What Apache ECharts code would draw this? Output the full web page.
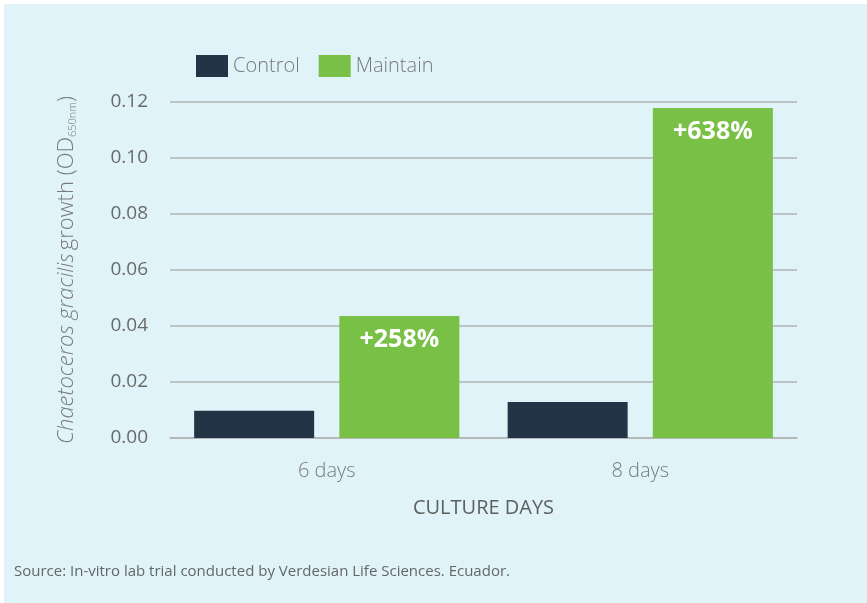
<!DOCTYPE html>
<html>
<head>
<meta charset="utf-8">
<script src="https://cdn.jsdelivr.net/npm/echarts@6/dist/echarts.min.js"></script>
<style>
html,body{margin:0;padding:0;background:#ffffff;}
#chart{width:867px;height:603px;}
</style>
</head>
<body>
<div id="chart"></div>
<script>
var categories = ['6 days', '8 days'];
var controlValues = [0.0097, 0.0129];
var maintainValues = [0.0436, 0.1179];
var maintainLabels = ['+258%', '+638%'];
var yTicks = { min: 0, max: 0.12, interval: 0.02 };

var chart = echarts.init(document.getElementById('chart'));
var font = '"Open Sans", Lato, sans-serif';
chart.setOption({
  backgroundColor: '#dff3f9',
  textStyle: { fontFamily: font },
  graphic: [
    { type: 'rect', left: 0, top: 0, shape: { width: 4, height: 603 }, style: { fill: '#ffffff' }, silent: true },
    { type: 'rect', left: 0, top: 0, shape: { width: 867, height: 4 }, style: { fill: '#ffffff' }, silent: true },
    { type: 'text', left: 14, top: 564, style: { text: 'Source: In-vitro lab trial conducted by Verdesian Life Sciences. Ecuador.', fill: '#666666', font: '15px ' + font } }
  ],
  legend: {
    left: 196, top: 55, padding: 0,
    itemWidth: 32, itemHeight: 22, itemGap: 19,
    icon: 'rect',
    textStyle: { fontSize: 20, color: '#7a7a7a', fontWeight: 300, fontFamily: font },
    data: ['Control', 'Maintain']
  },
  grid: { left: 170, right: 70, top: 102, bottom: 165 },
  xAxis: {
    type: 'category',
    data: categories,
    name: 'CULTURE DAYS',
    nameLocation: 'middle',
    nameGap: 60,
    nameTextStyle: { fontSize: 20, color: '#5f5f5f', fontWeight: 500, fontFamily: font },
    axisLine: { lineStyle: { color: '#b3b3b3', width: 1.5 } },
    axisTick: { show: false },
    axisLabel: { fontSize: 20, color: '#7a7a7a', fontWeight: 300, margin: 23, fontFamily: font }
  },
  yAxis: {
    type: 'value',
    min: yTicks.min, max: yTicks.max, interval: yTicks.interval,
    name: '{i|Chaetoceros gracilis} {n|growth (OD}{s|650nm}{n|)}',
    nameLocation: 'middle',
    nameGap: 92,
    nameTextStyle: {
      color: '#7a7a7a',
      rich: {
        i: { fontSize: 22, fontStyle: 'italic', fontWeight: 300, color: '#7a7a7a', fontFamily: font },
        n: { fontSize: 22, fontWeight: 300, color: '#7a7a7a', fontFamily: font },
        s: { fontSize: 11, fontWeight: 300, color: '#7a7a7a', fontFamily: font, verticalAlign: 'bottom', padding: [12, 0, 0, 0] }
      }
    },
    axisLine: { show: false },
    axisTick: { show: false },
    splitLine: { lineStyle: { color: '#b3b3b3', width: 1.5 } },
    axisLabel: {
      fontSize: 19, color: '#6a6a6a', fontWeight: 500, margin: 22, fontFamily: font,
      formatter: function (v) { return v.toFixed(2); }
    }
  },
  series: [
    {
      name: 'Control', type: 'bar', data: controlValues,
      barWidth: 120, barGap: '21%',
      itemStyle: { color: '#243447' }
    },
    {
      name: 'Maintain', type: 'bar', data: maintainValues,
      barWidth: 120,
      itemStyle: { color: '#78c046' },
      label: {
        show: true, position: 'insideTop', distance: 11,
        formatter: function (p) { return maintainLabels[p.dataIndex]; },
        color: '#ffffff', fontSize: 25, fontWeight: 'bold', fontFamily: font
      }
    }
  ]
});
</script>
</body>
</html>
